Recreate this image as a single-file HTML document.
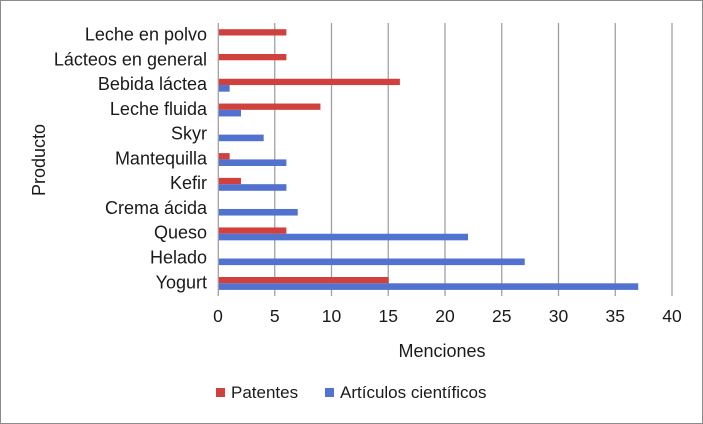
<!DOCTYPE html>
<html><head><style>
body{margin:0;background:#fff}
svg{display:block;font-family:"Liberation Sans",Arial,sans-serif}
</style></head><body>
<svg width="703" height="424" viewBox="0 0 703 424">
<rect x="0.5" y="0.5" width="702" height="423" fill="#fff" stroke="#8c8c8c"/>
<g stroke="#a0a0a0" stroke-width="1.3">
<line x1="274.75" y1="23" x2="274.75" y2="296"/>
<line x1="331.5" y1="23" x2="331.5" y2="296"/>
<line x1="388.25" y1="23" x2="388.25" y2="296"/>
<line x1="445" y1="23" x2="445" y2="296"/>
<line x1="501.75" y1="23" x2="501.75" y2="296"/>
<line x1="558.5" y1="23" x2="558.5" y2="296"/>
<line x1="615.25" y1="23" x2="615.25" y2="296"/>
<line x1="672" y1="23" x2="672" y2="296"/>
</g>
<g fill="#d0413d">
<rect x="218.3" y="29.2" width="68.1" height="6.3"/>
<rect x="218.3" y="53.98" width="68.1" height="6.3"/>
<rect x="218.3" y="78.76" width="181.6" height="6.3"/>
<rect x="218.3" y="103.54" width="102.15" height="6.3"/>
<rect x="218.3" y="153.1" width="11.35" height="6.3"/>
<rect x="218.3" y="177.88" width="22.7" height="6.3"/>
<rect x="218.3" y="227.44" width="68.1" height="6.3"/>
<rect x="218.3" y="277" width="170.25" height="6.3"/>
</g>
<g fill="#5272cf">
<rect x="218.3" y="85.06" width="11.35" height="6.6"/>
<rect x="218.3" y="109.84" width="22.7" height="6.6"/>
<rect x="218.3" y="134.62" width="45.4" height="6.6"/>
<rect x="218.3" y="159.4" width="68.1" height="6.6"/>
<rect x="218.3" y="184.18" width="68.1" height="6.6"/>
<rect x="218.3" y="208.96" width="79.45" height="6.6"/>
<rect x="218.3" y="233.74" width="249.7" height="6.6"/>
<rect x="218.3" y="258.52" width="306.45" height="6.6"/>
<rect x="218.3" y="283.3" width="419.95" height="6.6"/>
</g>
<line x1="218.3" y1="23" x2="218.3" y2="296" stroke="#a0a0a0" stroke-width="1.3"/>
<g font-size="18" fill="#1a1a1a" text-anchor="end">
<text x="207" y="40.5">Leche en polvo</text>
<text x="207" y="65.3">Lácteos en general</text>
<text x="207" y="90.1">Bebida láctea</text>
<text x="207" y="114.8">Leche fluida</text>
<text x="207" y="139.6">Skyr</text>
<text x="207" y="164.4">Mantequilla</text>
<text x="207" y="189.2">Kefir</text>
<text x="207" y="214">Crema ácida</text>
<text x="207" y="238.7">Queso</text>
<text x="207" y="263.5">Helado</text>
<text x="207" y="288.3">Yogurt</text>
</g>
<g font-size="17.5" fill="#1a1a1a" text-anchor="middle">
<text x="218" y="322">0</text><text x="274.75" y="322">5</text><text x="331.5" y="322">10</text>
<text x="388.25" y="322">15</text><text x="445" y="322">20</text><text x="501.75" y="322">25</text>
<text x="558.5" y="322">30</text><text x="615.25" y="322">35</text><text x="672" y="322">40</text>
<text x="442" y="357" font-size="18">Menciones</text>
<text transform="translate(45,160) rotate(-90)" font-size="18">Producto</text>
</g>
<rect x="216" y="388" width="9" height="9" fill="#d0413d"/>
<text x="231" y="398" font-size="17" fill="#1a1a1a">Patentes</text>
<rect x="325" y="388" width="9" height="9" fill="#5272cf"/>
<text x="340" y="398" font-size="17" fill="#1a1a1a">Artículos científicos</text>
</svg>
</body></html>
